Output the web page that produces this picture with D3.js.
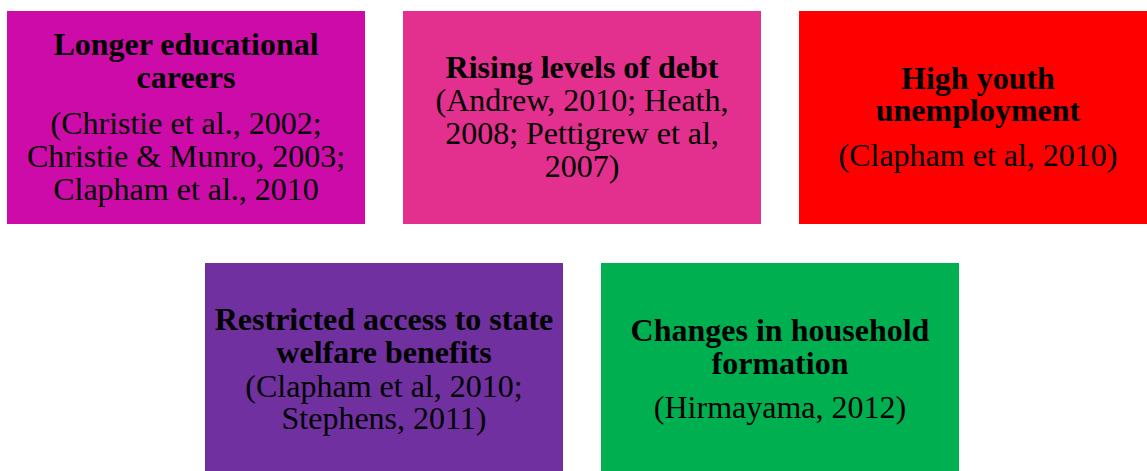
<!DOCTYPE html>
<html>
<head>
<meta charset="utf-8">
<script src="https://cdn.jsdelivr.net/npm/d3@7"></script>
<style>
  html, body { margin: 0; padding: 0; background: #ffffff; }
  svg { display: block; }
</style>
</head>
<body>
<svg id="chart" width="1147" height="471"></svg>
<script>
// ---- data ----
const titles = [
  ["Longer educational", "careers"],
  ["Rising levels of debt"],
  ["High youth", "unemployment"],
  ["Restricted access to state", "welfare benefits"],
  ["Changes in household", "formation"]
];
const citations = [
  ["(Christie et al., 2002;", "Christie & Munro, 2003;", "Clapham et al., 2010"],
  ["(Andrew, 2010; Heath,", "2008; Pettigrew et al,", "2007)"],
  ["(Clapham et al, 2010)"],
  ["(Clapham et al, 2010;", "Stephens, 2011)"],
  ["(Hirmayama, 2012)"]
];
const columns = [0, 1, 2, 0.5, 1.5];
const rows = [0, 0, 0, 1, 1];
const fills = ["#CD0BA8", "#E32F8D", "#FF0000", "#7030A0", "#00B050"];

// ---- layout ----
const boxW = 358, boxH = 213;
const paraGap = [46, 33, 45, 34, 44];
const lineStep = 32.8;

const x = d3.scaleLinear().domain([0, 1]).range([7, 403]);
const y = d3.scaleLinear().domain([0, 1]).range([11, 263]);

const svg = d3.select("#chart");
const nodes = titles.map((t, i) => ({ t, c: citations[i], col: columns[i], row: rows[i], fill: fills[i], gap: paraGap[i] }));

const g = svg.selectAll("g.box").data(nodes).join("g").attr("class", "box")
  .attr("transform", d => `translate(${x(d.col)},${y(d.row)})`);

g.append("rect")
  .attr("width", boxW).attr("height", boxH)
  .attr("fill", d => d.fill);

g.each(function(d) {
  const sel = d3.select(this);
  const span = (d.t.length - 1) * lineStep + d.gap + (d.c.length - 1) * lineStep;
  const center = 109;
  let b = center - span / 2 + 7.5;
  const lines = [];
  d.t.forEach((s, k) => { lines.push({ s, bold: true, y: b + k * lineStep }); });
  const cb = b + (d.t.length - 1) * lineStep + d.gap;
  d.c.forEach((s, k) => { lines.push({ s, bold: false, y: cb + k * lineStep }); });
  sel.selectAll("text").data(lines).join("text")
    .attr("x", boxW / 2)
    .attr("y", l => l.y)
    .attr("text-anchor", "middle")
    .attr("font-family", "'Liberation Serif', 'Times New Roman', serif")
    .attr("font-size", 32)
    .attr("font-weight", l => l.bold ? "bold" : "normal")
    .attr("fill", "#000")
    .text(l => l.s);
});
</script>
</body>
</html>
